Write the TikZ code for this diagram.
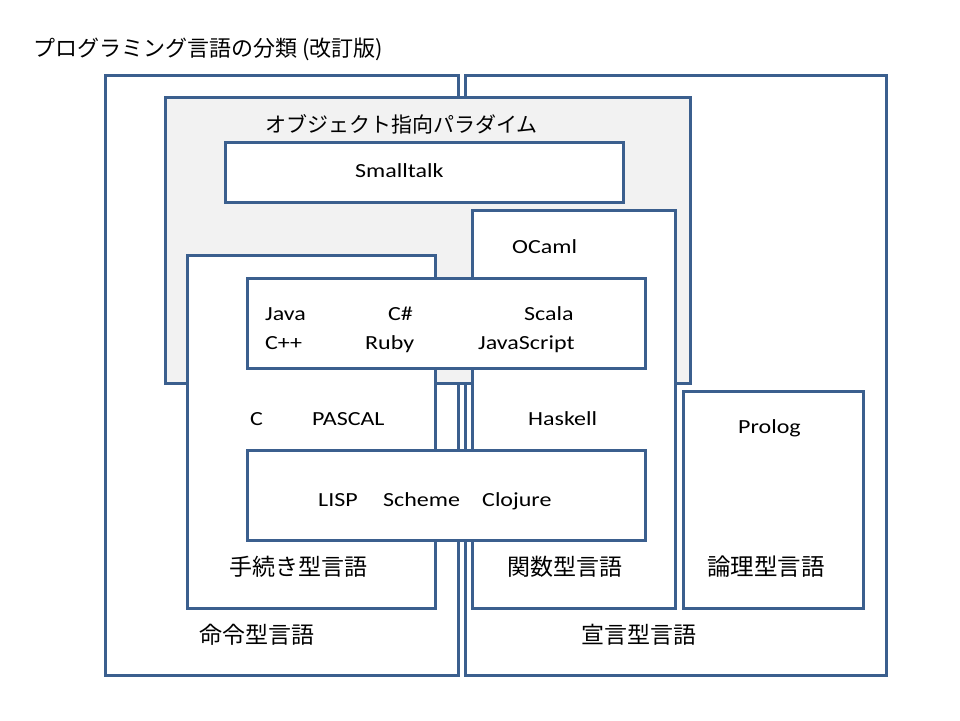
\documentclass[tikz,border=0pt]{standalone}
\usepackage{fontspec}
\newfontfamily\jp{Noto Sans CJK JP}
\newfontfamily\lat[FakeStretch=1.2]{Carlito}
\usetikzlibrary{fit}
\definecolor{edgeblue}{HTML}{3B5F8E}
\definecolor{oopgray}{HTML}{F2F2F2}
\begin{document}
\begin{tikzpicture}[x=1pt,y=-1pt,
  box/.style={draw=edgeblue, line width=3pt, fill=white, inner sep=0pt},
  lt/.style={font=\lat\fontsize{20}{24}\selectfont, anchor=base west, inner sep=0pt},
  jl/.style={font=\jp\fontsize{23}{28}\selectfont, anchor=base west, inner sep=0pt},
  js/.style={font=\jp\fontsize{21}{26}\selectfont, anchor=base west, inner sep=0pt}]
\useasboundingbox[fill=white] (0,0) rectangle (960,720);
% boxes
\node[box, fit={(105,75) (458,675)}] (imp) {};
\node[box, fit={(465,75) (886,675)}] (dec) {};
\node[box, fill=oopgray, fit={(165,97) (690,383)}] (oop) {};
\node[box, fit={(225,142) (623,202)}] (st) {};
\node[box, fit={(187,255) (435,608)}] (proc) {};
\node[box, fit={(472,210) (675,608)}] (func) {};
\node[box, fit={(683,391) (863,608)}] (logic) {};
\node[box, fit={(247,278) (645,368)}] (java) {};
\node[box, fit={(247,450) (645,540)}] (lisp) {};
% texts
\node[js, font=\jp\fontsize{22}{26}\selectfont] (title) at (33,56) {プログラミング言語の分類 (改訂版)};
\node[js] (ooplbl) at (265,132) {オブジェクト指向パラダイム};
\node[lt] (smalltalk) at (355,177) {Smalltalk};
\node[lt] (ocaml) at (512,253) {OCaml};
\node[lt] (javat) at (265,320) {Java};
\node[lt] (csharp) at (388,320) {C\#};
\node[lt] (scala) at (524,320) {Scala};
\node[lt] (cpp) at (265,349) {C++};
\node[lt] (ruby) at (365,349) {Ruby};
\node[lt] (jscript) at (478,349) {JavaScript};
\node[lt] (clang) at (250,425) {C};
\node[lt] (pascal) at (312,425) {PASCAL};
\node[lt] (haskell) at (528,425) {Haskell};
\node[lt] (prolog) at (738,433) {Prolog};
\node[lt] (lispt) at (318,506) {LISP};
\node[lt] (scheme) at (383,506) {Scheme};
\node[lt] (clojure) at (482,506) {Clojure};
\node[jl] (proclbl) at (229,575) {手続き型言語};
\node[jl] (funclbl) at (507,575) {関数型言語};
\node[jl, font=\jp\fontsize{23.5}{28}\selectfont] (logiclbl) at (707,575) {論理型言語};
\node[jl] (implbl) at (199,643) {命令型言語};
\node[jl] (declbl) at (581,643) {宣言型言語};
\end{tikzpicture}
\end{document}
